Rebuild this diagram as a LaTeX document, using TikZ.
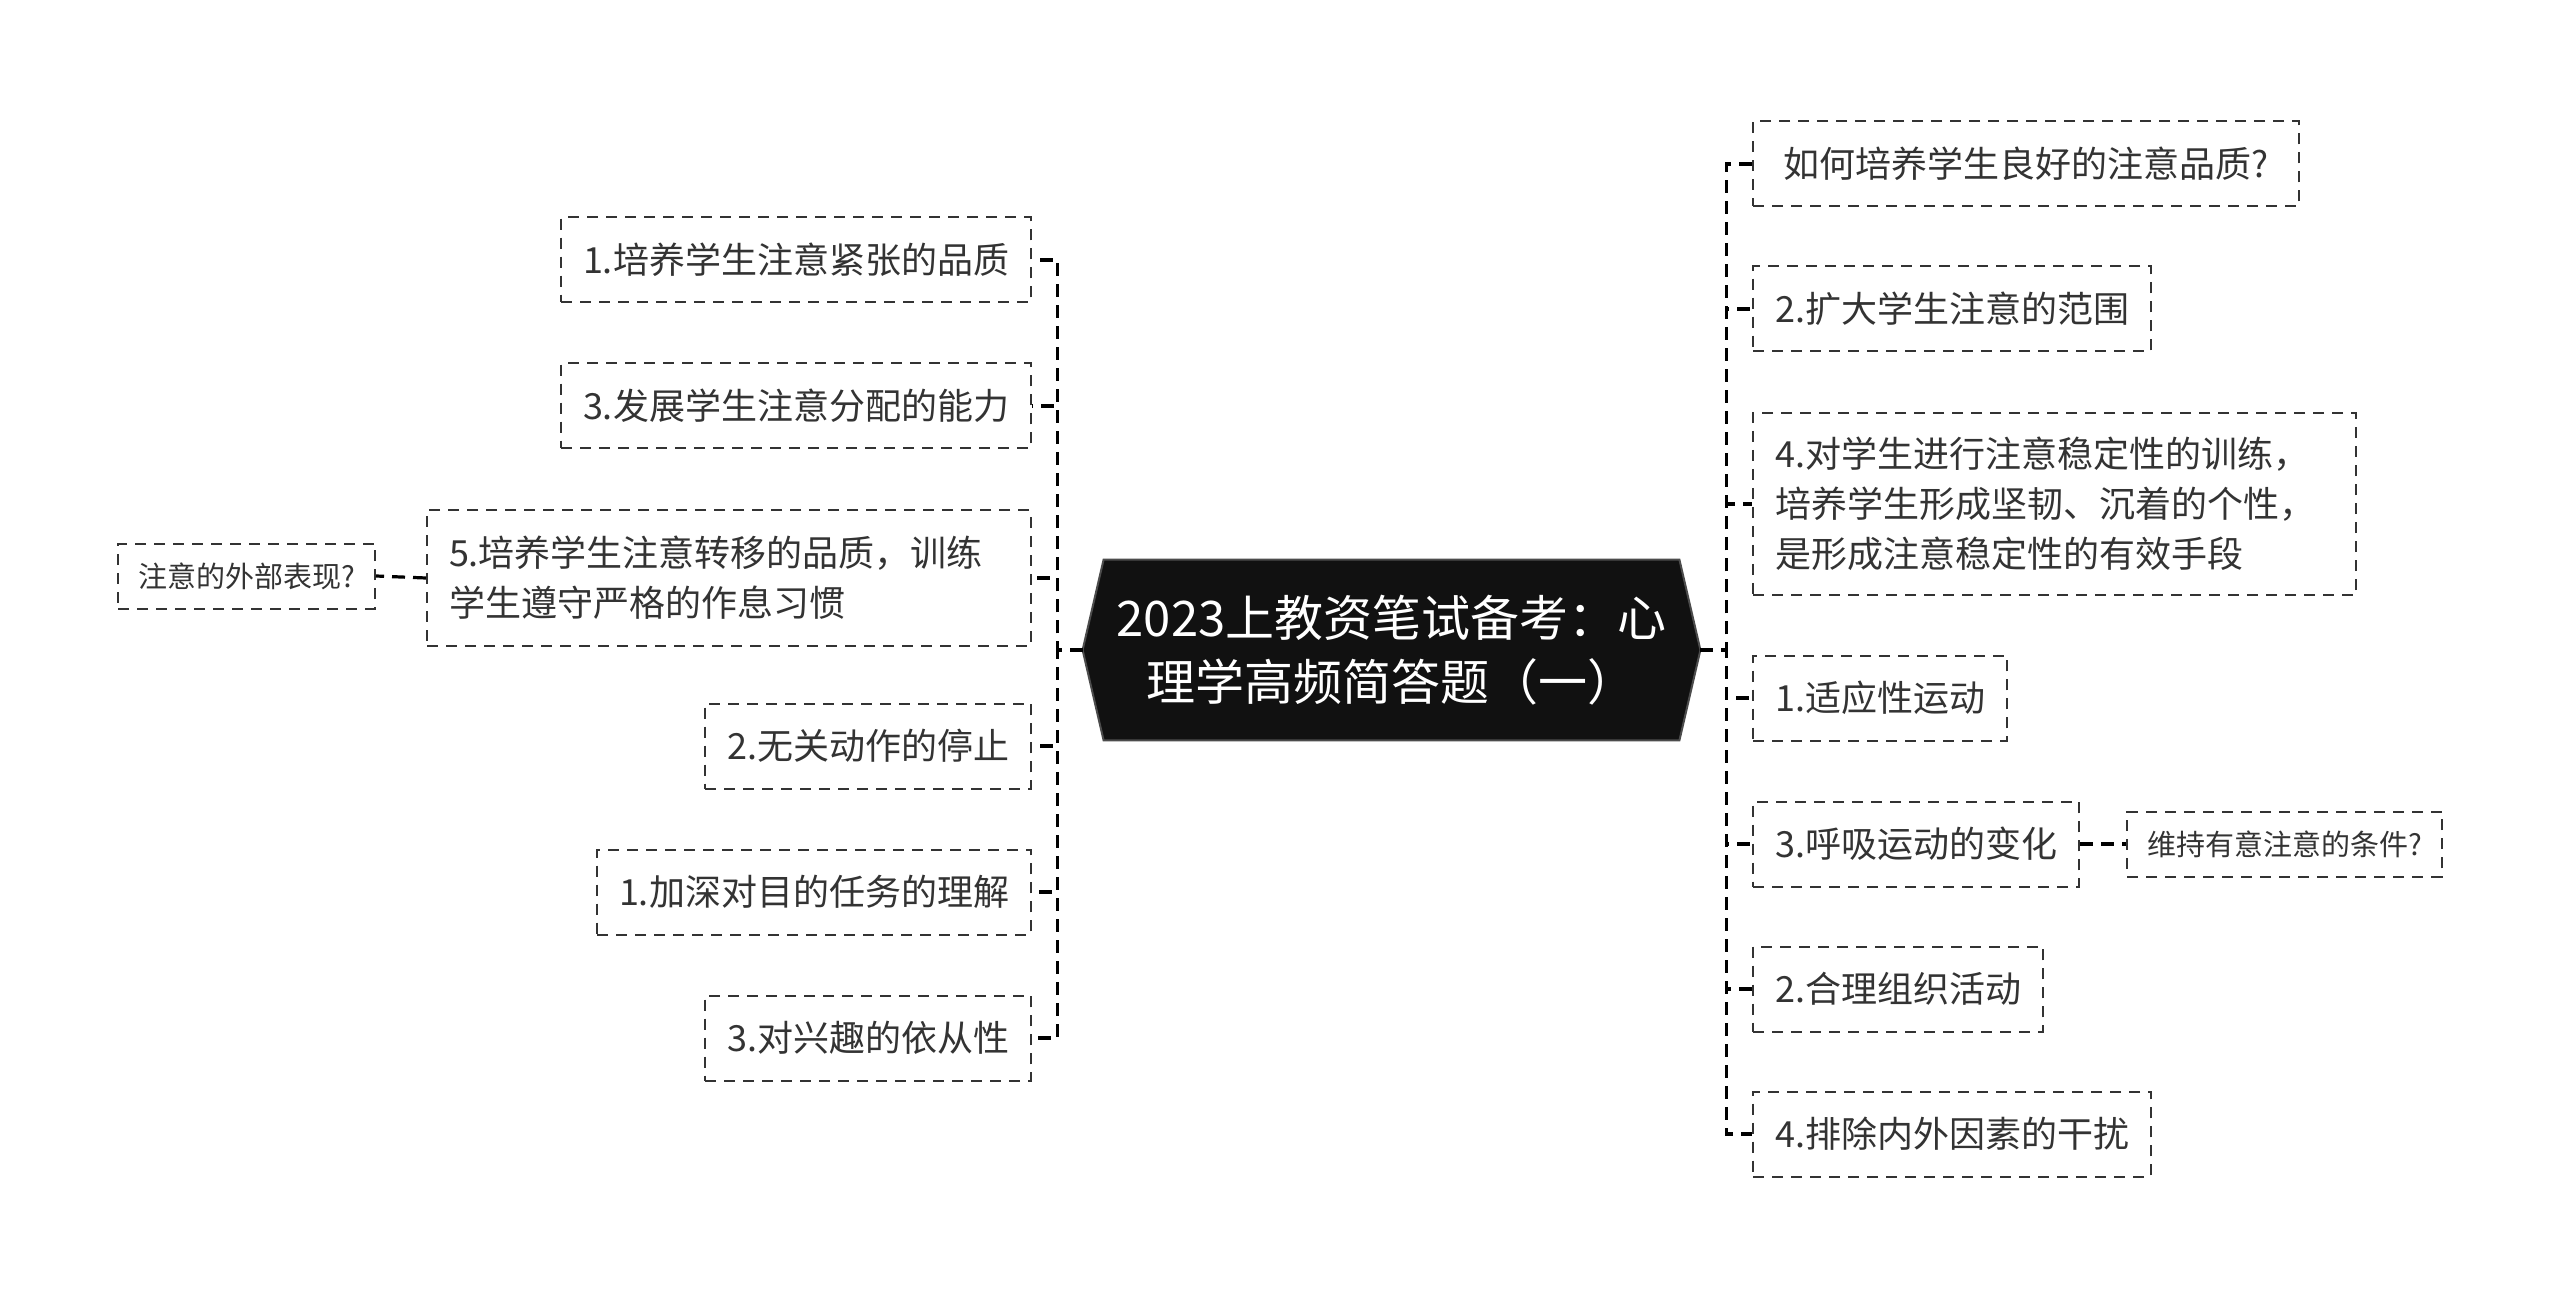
\documentclass[tikz,border=0pt]{standalone}
\usepackage{fontspec}
\setmainfont{Noto Sans CJK SC}
\usetikzlibrary{calc, backgrounds}
\definecolor{ink}{HTML}{333333}
\definecolor{rootfill}{HTML}{111111}
\tikzset{
  leaf/.style={draw=ink, dash pattern=on 5.5pt off 4pt, line width=1pt, text=ink,
               font=\fontsize{18}{25}\selectfont, align=left,
               inner xsep=11pt, inner ysep=0pt, minimum height=42.5pt, minimum width=#1},
  leaf/.default=10pt,
  tip/.style={leaf=#1, font=\fontsize{14.5}{20}\selectfont, minimum height=32.5pt, inner xsep=10pt},
  root/.style={minimum width=287.5pt, minimum height=90pt, inner sep=0pt, text=white,
               font=\fontsize{24.5}{32}\selectfont, align=center},
  link/.style={draw=black, line width=1.6pt, dash pattern=on 6.5pt off 4pt},
}

\begin{document}
\begin{tikzpicture}[x=0.5pt, y=-0.5pt]
  \begin{scope}[on background layer]
    \fill[white] (0,0) rectangle (2560,1299);
  \end{scope}
  \useasboundingbox (0,0) rectangle (2560,1299);

  \node[root] (root) at (1391.5,650) {2023上教资笔试备考：心\\理学高频简答题（一）};
  \coordinate (rootW) at ($(root.west)+(-21,0)$);
  \coordinate (rootE) at ($(root.east)+(21,0)$);
  \begin{scope}[on background layer]
    \fill[rootfill, draw=black!70, line width=1pt] (root.north west) -- (rootW) -- (root.south west)
      -- (root.south east) -- (rootE) -- (root.north east) -- cycle;
  \end{scope}

  % left branch
  \node[leaf=234pt, anchor=east] (lq1) at (1032,260) {1.培养学生注意紧张的品质};
  \node[leaf=234pt, anchor=east] (lq2) at (1032,406) {3.发展学生注意分配的能力};
  \node[leaf, anchor=east, text width=280pt, minimum height=67.5pt] (lq3) at (1032,578)
    {5.培养学生注意转移的品质，训练\\学生遵守严格的作息习惯};
  \node[leaf=161pt, anchor=east] (lq4) at (1032,746) {2.无关动作的停止};
  \node[leaf=215.5pt, anchor=east] (lq5) at (1032,892) {1.加深对目的任务的理解};
  \node[leaf=161pt, anchor=east] (lq6) at (1032,1038) {3.对兴趣的依从性};
  \node[tip=127.5pt, anchor=east] (ltip) at (376,576) {注意的外部表现?};

  % right branch
  \node[leaf=273pt, anchor=west] (rq1) at (1752,164) {如何培养学生良好的注意品质?};
  \node[leaf=197pt, anchor=west] (rq2) at (1752,309) {2.扩大学生注意的范围};
  \node[leaf, anchor=west, text width=279.5pt, minimum height=91pt] (rq3) at (1752,504)
    {4.对学生进行注意稳定性的训练，\\培养学生形成坚韧、沉着的个性，\\是形成注意稳定性的有效手段};
  \node[leaf=125pt, anchor=west] (rq4) at (1752,698) {1.适应性运动};
  \node[leaf=161.5pt, anchor=west] (rq5) at (1752,844) {3.呼吸运动的变化};
  \node[leaf=143pt, anchor=west] (rq6) at (1752,989) {2.合理组织活动};
  \node[leaf=197.5pt, anchor=west] (rq7) at (1752,1134) {4.排除内外因素的干扰};
  \node[tip=156.5pt, anchor=west] (rtip) at (2126,844) {维持有意注意的条件?};

  \foreach \n in {lq1,lq2,lq3,lq4,lq5,lq6}
    \draw[link] (rootW) -- ++(-25,0) |- (\n.east);
  \foreach \n in {rq1,rq2,rq3,rq4,rq5,rq6,rq7}
    \draw[link] (rootE) -- ++(26,0) |- (\n.west);
  \draw[link] (lq3.west) -- (ltip.east);
  \draw[link] (rq5.east) -- (rtip.west);
\end{tikzpicture}
\end{document}
